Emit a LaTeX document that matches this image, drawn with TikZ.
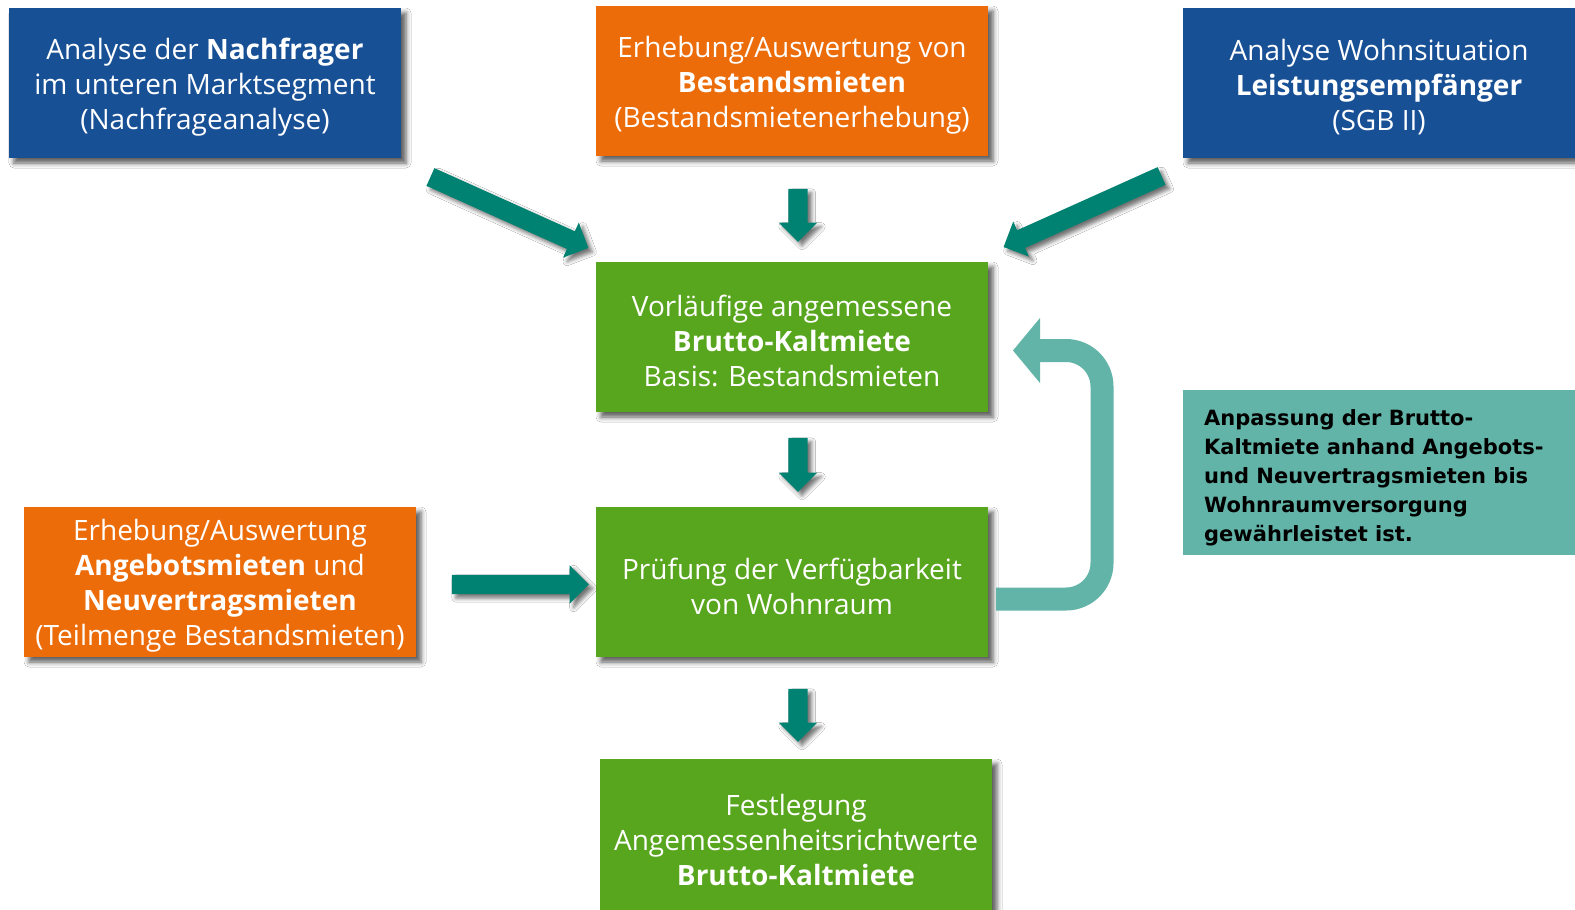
\documentclass[tikz,border=0pt]{standalone}
\usepackage{fontspec}
\setmainfont{Open Sans}
\newfontfamily\notefont{DejaVu Sans}
\usetikzlibrary{shapes.arrows,shadows.blur,calc}
\definecolor{boxblue}{RGB}{24,80,150}
\definecolor{boxorange}{RGB}{236,108,10}
\definecolor{boxgreen}{RGB}{88,165,30}
\definecolor{arrowteal}{RGB}{0,130,114}
\definecolor{noteteal}{RGB}{98,180,168}
\tikzset{
  box/.style={rectangle, inner sep=0pt, minimum width=392pt, minimum height=150pt,
    blur shadow={shadow xshift=5pt, shadow yshift=-5pt, shadow blur radius=5pt, shadow opacity=65}},
  boxtext/.style={text=white, align=center, inner sep=0pt, yshift=-4pt,
    font=\fontsize{28}{35}\selectfont},
  barrow/.style={single arrow, single arrow head extend=9.5pt, single arrow tip angle=90,
    inner xsep=0pt, inner ysep=9.5pt, fill=arrowteal,
    blur shadow={shadow xshift=4pt, shadow yshift=-4pt, shadow blur radius=4pt, shadow opacity=55}},
}
\newcommand\blockarrow[2]{%
  \path let \p1=($(#2)-(#1)$), \n1={atan2(\y1,\x1)}, \n2={veclen(\x1,\y1)} in
    node[barrow, minimum height=\n2, rotate=\n1] at ($(#1)!0.5!(#2)$) {};}
\begin{document}
\begin{tikzpicture}[x=1pt,y=-1pt]
\useasboundingbox (0,0) rectangle (1575,910);
\fill[white] (0,0) rectangle (1575,910);

% boxes
\node[box, fill=boxblue, label={[boxtext]center:{Analyse der \textbf{Nachfrager}\\im unteren Marktsegment\\(Nachfrageanalyse)}}] (nach) at (205,83) {};
\node[box, fill=boxorange, label={[boxtext]center:{Erhebung/Auswertung von\\\textbf{Bestandsmieten}\\(Bestandsmietenerhebung)}}] (bestand) at (792,81) {};
\node[box, fill=boxblue, label={[boxtext]center:{Analyse Wohnsituation\\\textbf{Leistungsempfänger}\\(SGB II)}}] (wohn) at (1379,83) {};
\node[box, fill=boxgreen, label={[boxtext]center:{Vorläufige angemessene\\\textbf{Brutto-Kaltmiete}\\Basis: Bestandsmieten}}] (vorl) at (792,337) {};
\node[box, fill=boxorange, label={[boxtext]center:{Erhebung/Auswertung\\\textbf{Angebotsmieten} und\\\textbf{Neuvertragsmieten}\\(Teilmenge Bestandsmieten)}}] (angebot) at (220,582) {};
\node[box, fill=boxgreen, label={[boxtext]center:{Prüfung der Verfügbarkeit\\von Wohnraum}}] (pruef) at (792,582) {};
\node[box, fill=boxgreen, minimum height=156pt, label={[boxtext,yshift=1pt]center:{Festlegung\\Angemessenheitsrichtwerte\\\textbf{Brutto-Kaltmiete}}}] (fest) at (796,837) {};

% note
\node[rectangle, fill=noteteal, minimum width=392pt, minimum height=165pt, inner sep=0pt] (note) at (1379,472.5) {};
\node[anchor=west, align=left, inner sep=0pt, font=\notefont\bfseries\fontsize{21}{29}\selectfont] (notetext) at (1204,478)
  {Anpassung der Brutto-\\Kaltmiete anhand Angebots-\\und Neuvertragsmieten bis\\Wohnraumversorgung\\gewährleistet ist.};

% arrow end points
\coordinate (a1s) at (426,175); \coordinate (a1e) at (584,246);
\coordinate (a2s) at (1166,174); \coordinate (a2e) at (1008,245);
\coordinate (a3s) at (798,184); \coordinate (a3e) at (798,237);
\coordinate (a4s) at (798,433); \coordinate (a4e) at (798,487);
\coordinate (a5s) at (798,684); \coordinate (a5e) at (798,737);
\coordinate (a6s) at (447,584.5); \coordinate (a6e) at (584,584.5);
\blockarrow{a1s}{a1e}
\blockarrow{a2s}{a2e}
\blockarrow{a3s}{a3e}
\blockarrow{a4s}{a4e}
\blockarrow{a5s}{a5e}
\blockarrow{a6s}{a6e}

% feedback arrow
\coordinate (fbs) at (996,599);
\coordinate (fbc) at (1102,350.5);
\coordinate (fbe) at (1040,350.5);
\coordinate (fbt) at (1013,350.5);
\draw[noteteal, line width=23pt, rounded corners=36pt] (fbs) -| (fbc) -- (fbe);
\fill[noteteal] (1040,318) -- (fbt) -- (1040,383) -- cycle;
\end{tikzpicture}
\end{document}
